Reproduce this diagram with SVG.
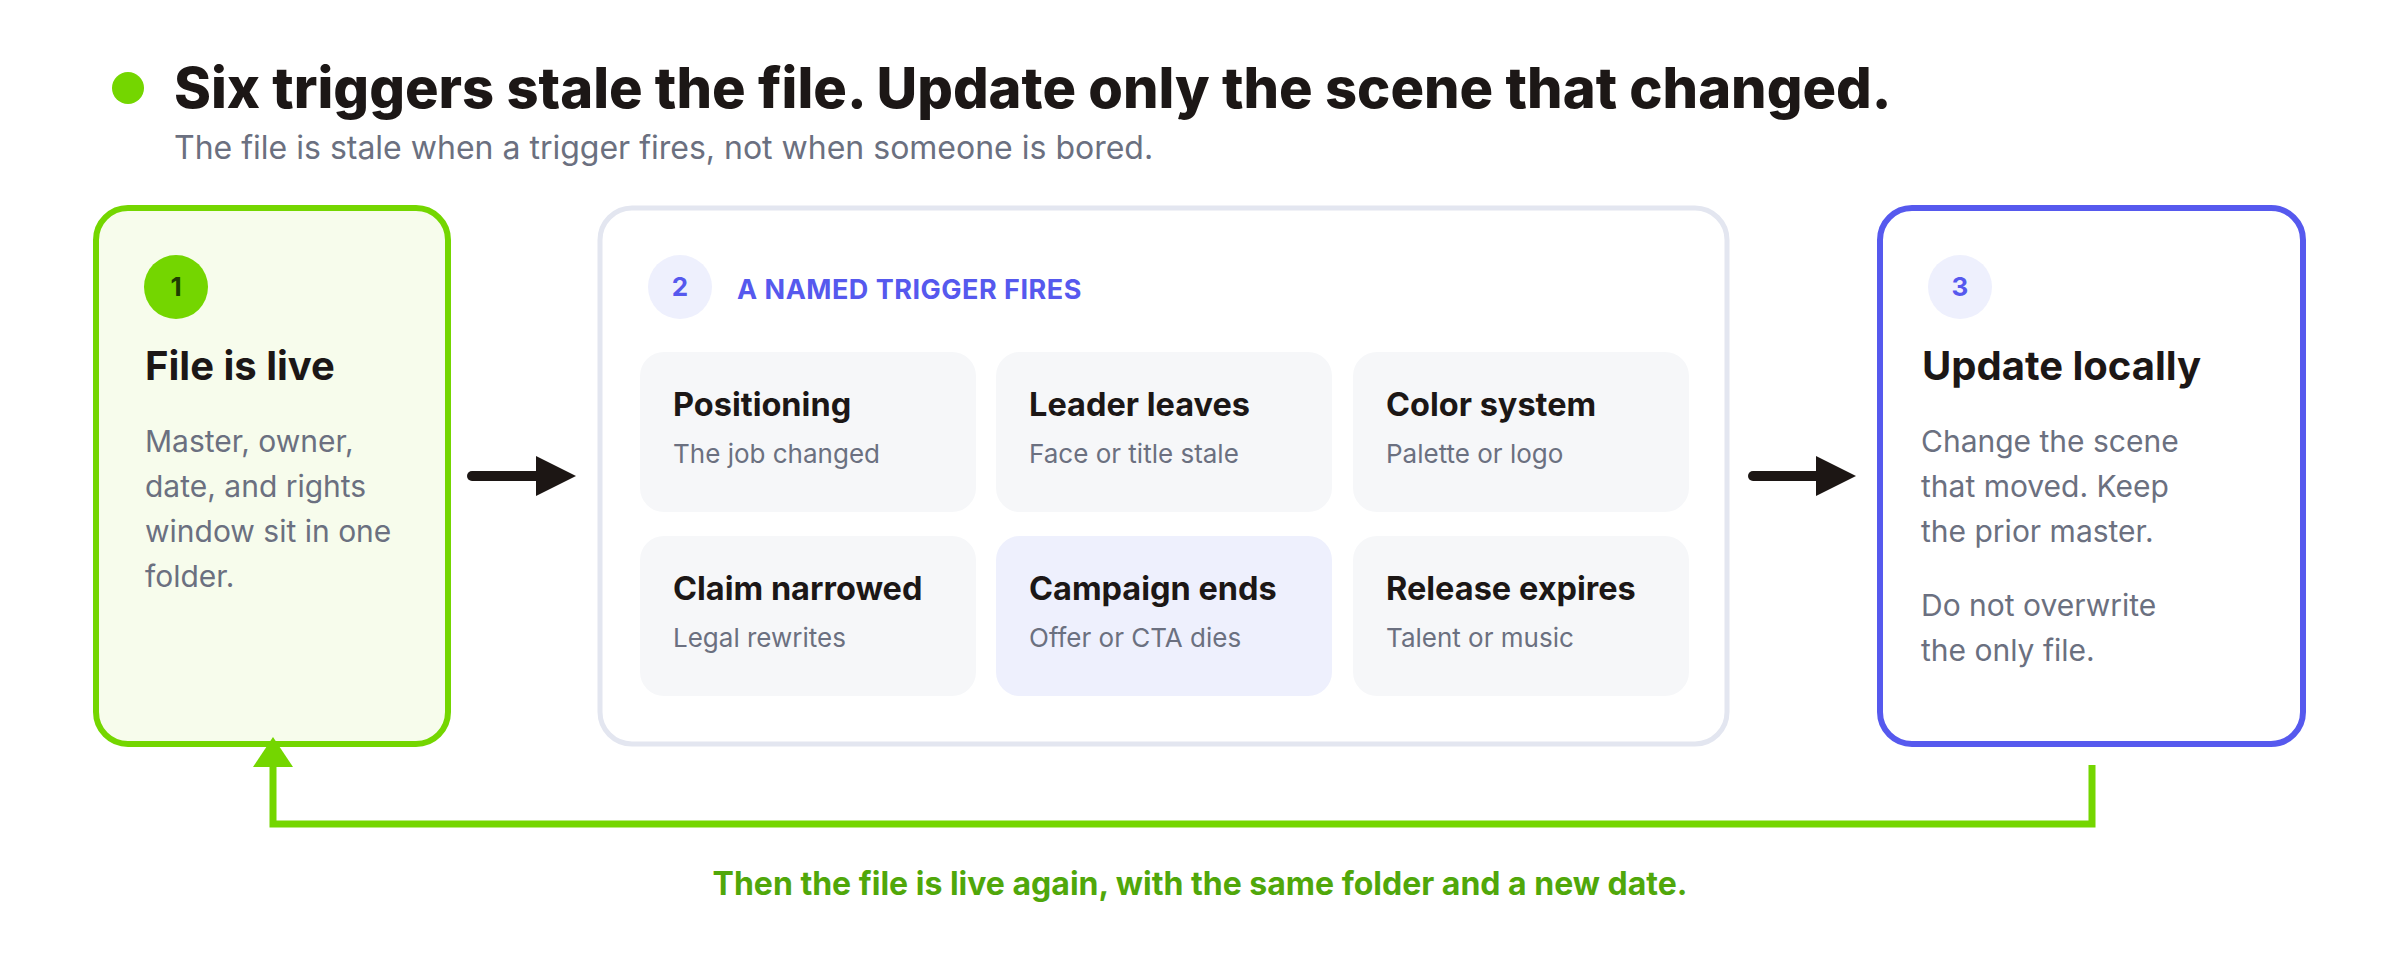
<svg xmlns="http://www.w3.org/2000/svg" width="2400" height="960" viewBox="0 0 2400 960">
<defs>
<style>
text{font-family:Inter,"Noto Sans","Liberation Sans",sans-serif}
.title{font-size:56px;font-weight:800;fill:#1c1716}
.sub{font-size:32px;fill:#6b7080}
.h{font-size:40px;font-weight:700;fill:#1c1716}
.body{font-size:30px;fill:#6b7080}
.ct{font-size:32.5px;font-weight:700;fill:#1c1716}
.cs{font-size:26px;fill:#6b7080}
.num{font-size:26px;font-weight:700;text-anchor:middle}
.card{fill:#f6f7f9}
</style>
</defs>
<rect width="2400" height="960" fill="#ffffff"/>
<g id="header">
<circle cx="128" cy="88" r="16" fill="#74d600"/>
<text class="title" x="174" y="108">Six triggers stale the file. Update only the scene that changed.</text>
<text class="sub" x="174" y="159">The file is stale when a trigger fires, not when someone is bored.</text>
</g>
<g id="node1">
<rect x="96" y="208" width="352" height="536" rx="32" fill="#f7fcec" stroke="#74d600" stroke-width="6"/>
<circle cx="176" cy="287" r="32" fill="#74d600"/>
<text class="num" x="176" y="296" fill="#1d3d00">1</text>
<text class="h" x="145" y="380">File is live</text>
<text class="body" x="145" y="452">Master, owner,</text>
<text class="body" x="145" y="497">date, and rights</text>
<text class="body" x="145" y="542">window sit in one</text>
<text class="body" x="145" y="587">folder.</text>
</g>
<g id="node2">
<rect x="600" y="208" width="1127" height="536" rx="32" fill="#ffffff" stroke="#e3e6f0" stroke-width="5"/>
<circle cx="680" cy="287" r="32" fill="#eef0fd"/>
<text class="num" x="680" y="296" fill="#5659ee">2</text>
<text x="737" y="299" font-size="27" font-weight="700" letter-spacing="0.5" fill="#5659ee">A NAMED TRIGGER FIRES</text>
<g id="card-positioning">
<rect class="card" x="640" y="352" width="336" height="160" rx="24"/>
<text class="ct" x="673" y="416">Positioning</text>
<text class="cs" x="673" y="463">The job changed</text>
</g>
<g id="card-leader">
<rect class="card" x="996" y="352" width="336" height="160" rx="24"/>
<text class="ct" x="1029" y="416">Leader leaves</text>
<text class="cs" x="1029" y="463">Face or title stale</text>
</g>
<g id="card-color">
<rect class="card" x="1353" y="352" width="336" height="160" rx="24"/>
<text class="ct" x="1386" y="416">Color system</text>
<text class="cs" x="1386" y="463">Palette or logo</text>
</g>
<g id="card-claim">
<rect class="card" x="640" y="536" width="336" height="160" rx="24"/>
<text class="ct" x="673" y="600">Claim narrowed</text>
<text class="cs" x="673" y="647">Legal rewrites</text>
</g>
<g id="card-campaign">
<rect x="996" y="536" width="336" height="160" rx="24" fill="#eef0fd"/>
<text class="ct" x="1029" y="600">Campaign ends</text>
<text class="cs" x="1029" y="647">Offer or CTA dies</text>
</g>
<g id="card-release">
<rect class="card" x="1353" y="536" width="336" height="160" rx="24"/>
<text class="ct" x="1386" y="600">Release expires</text>
<text class="cs" x="1386" y="647">Talent or music</text>
</g>
</g>
<g id="node3">
<rect x="1880" y="208" width="423" height="536" rx="32" fill="#ffffff" stroke="#5659ee" stroke-width="6"/>
<circle cx="1960" cy="287" r="32" fill="#eef0fd"/>
<text class="num" x="1960" y="296" fill="#5659ee">3</text>
<text class="h" x="1922" y="380">Update locally</text>
<text class="body" x="1921" y="452">Change the scene</text>
<text class="body" x="1921" y="497">that moved. Keep</text>
<text class="body" x="1921" y="542">the prior master.</text>
<text class="body" x="1921" y="616">Do not overwrite</text>
<text class="body" x="1921" y="661">the only file.</text>
</g>
<g id="connectors">
<line x1="472" y1="476" x2="540" y2="476" stroke="#1c1614" stroke-width="10" stroke-linecap="round"/>
<polygon points="536,456 576,476 536,496" fill="#1c1614"/>
<line x1="1753" y1="476" x2="1820" y2="476" stroke="#1c1614" stroke-width="10" stroke-linecap="round"/>
<polygon points="1816,456 1856,476 1816,496" fill="#1c1614"/>
<polyline points="2092,765 2092,824 273,824 273,765" fill="none" stroke="#74d600" stroke-width="7"/>
<polygon points="253,767 273,737 293,767" fill="#74d600"/>
</g>
<text x="1200" y="895" font-size="32" font-weight="700" fill="#50a70a" text-anchor="middle">Then the file is live again, with the same folder and a new date.</text>
</svg>
